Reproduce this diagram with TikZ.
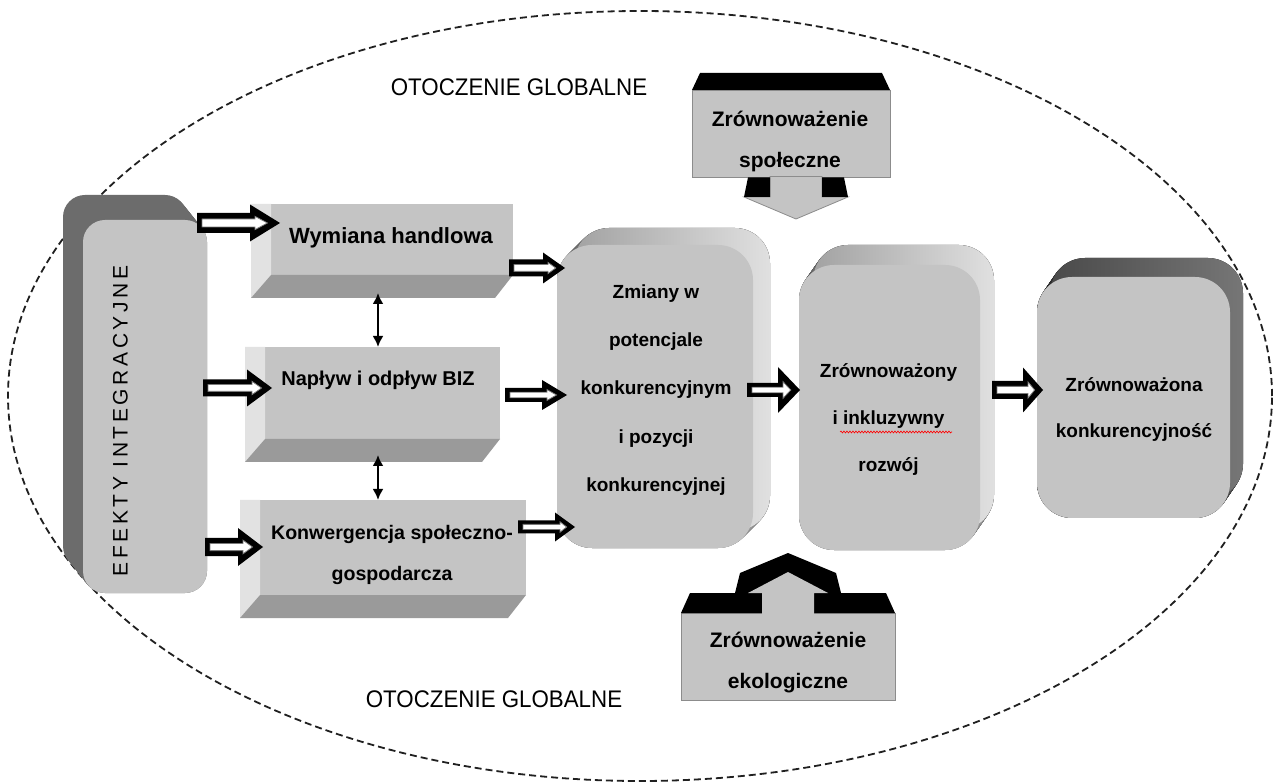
\documentclass[tikz,border=0pt]{standalone}
\usepackage{fontspec}
\setmainfont{Liberation Sans}
\newfontfamily\spacedfont[LetterSpace=17]{Liberation Sans}
\usetikzlibrary{calc,arrows.meta,decorations.pathmorphing}
\definecolor{face}{HTML}{C4C4C4}
\definecolor{bevL}{HTML}{E2E2E2}
\definecolor{bevB}{HTML}{9A9A9A}
\definecolor{extL}{HTML}{A2A2A2}
\definecolor{extR}{HTML}{E0E0E0}
\definecolor{extDL}{HTML}{4A4A4A}
\definecolor{extDR}{HTML}{767676}
\definecolor{extE}{HTML}{6C6C6C}
\definecolor{ellc}{HTML}{202020}
\definecolor{agray}{HTML}{7A7A7A}
\definecolor{cborder}{HTML}{8C8C8C}

% hollow block arrow: start, tip, shaft half, head half, head length
\newcommand\harrow[5]{%
\fill let \p1=#1, \p2=#2 in
 (\x1,\y1+#3pt) -- (\x2-#5pt,\y1+#3pt) -- (\x2-#5pt,\y1+#4pt) -- (\x2,\y1)
 -- (\x2-#5pt,\y1-#4pt) -- (\x2-#5pt,\y1-#3pt) -- (\x1,\y1-#3pt) -- cycle;
\filldraw[fill=white, draw=agray, line width=0.8pt] let \p1=#1, \p2=#2 in
 (\x1+5pt,\y1+0.4*#3pt) -- (\x2-#5pt+5pt,\y1+0.4*#3pt) -- (\x2-#5pt+5pt,\y1+0.36*#4pt) -- (\x2-0.42*#5pt,\y1)
 -- (\x2-#5pt+5pt,\y1-0.36*#4pt) -- (\x2-#5pt+5pt,\y1-0.4*#3pt) -- (\x1+5pt,\y1-0.4*#3pt) -- cycle;
}
\newcommand\bevelstrips[1]{%
 \fill[bevL] (#1.north west) -- ([xshift=-20pt]#1.north west) -- ([xshift=-20pt,yshift=-23pt]#1.south west) -- (#1.south west) -- cycle;
 \fill[bevB] (#1.south west) -- (#1.south east) -- ([xshift=-18pt,yshift=-23pt]#1.south east) -- ([xshift=-20pt,yshift=-23pt]#1.south west) -- cycle;}

\tikzset{
  bigface/.style={fill=face, draw=none, inner sep=0pt, outer sep=0pt, rounded corners=35pt},
  bevface/.style={fill=face, draw=none, inner sep=0pt, outer sep=0pt},
  calface/.style={fill=face, draw=cborder, line width=0.8pt, inner sep=0pt, outer sep=0pt},
  btxt/.style={inner sep=0pt, align=center, text=black},
  dblarrow/.style={line width=2.6pt, {Latex[length=11pt,width=11pt]}-{Latex[length=11pt,width=11pt]}},
}

\begin{document}
\begin{tikzpicture}[x=1pt,y=-1pt]
\useasboundingbox (0,0) rectangle (1278,783);
\fill[white] (0,0) rectangle (1278,783);

% global environment ellipse
\draw[ellc, line width=1.8pt, dash pattern=on 7pt off 4pt] (640,396) ellipse [x radius=632pt, y radius=385pt];

% labels of the environment
\node[btxt, anchor=base] (otTop) at (519,96) {\scalebox{0.93}[1]{\fontsize{24}{28}\selectfont OTOCZENIE GLOBALNE}};
\node[btxt, anchor=base] (otBot) at (494,707) {\scalebox{0.93}[1]{\fontsize{24}{28}\selectfont OTOCZENIE GLOBALNE}};

% EFEKTY INTEGRACYJNE
\foreach \i in {0,...,25} \fill[extE, rounded corners=22pt] (83-0.8*\i,220-\i) rectangle (207-0.8*\i,593-\i);
\node[bigface, rounded corners=22pt, minimum width=124pt, minimum height=373pt] (efekty) at (145,406.5) {};
\node[btxt, rotate=90] (efektyT) at (120.5,421) {\fontsize{21}{25}\spacedfont EFEKTY INTEGRACYJNE};

% bevel boxes
\node[bevface, minimum width=242pt, minimum height=71pt] (wym) at (392,239.5) {};
\bevelstrips{wym}
\node[btxt, anchor=base, font=\fontsize{22}{26}\selectfont\bfseries] (wymT) at (391,244) {Wymiana handlowa};

\node[bevface, minimum width=235pt, minimum height=92pt] (nap) at (382.5,393) {};
\bevelstrips{nap}
\node[btxt, anchor=base, font=\fontsize{20}{24}\selectfont\bfseries] (napT) at (378,386) {Napływ i odpływ BIZ};

\node[bevface, minimum width=266pt, minimum height=95pt] (kon) at (393,547.5) {};
\bevelstrips{kon}
\node[btxt, anchor=base, font=\fontsize{19.6}{41}\selectfont\bfseries] (konT) at (392,580) {Konwergencja społeczno-\\gospodarcza};

% big 3D boxes
\foreach \i in {0,...,17} \fill[left color=extL, right color=extR, rounded corners=35pt] (557+\i,245-\i) rectangle (753+\i,548-\i);
\node[bigface, minimum width=196pt, minimum height=303pt] (zmiany) at (655,396.5) {};
\node[btxt, anchor=base, font=\fontsize{19}{48.5}\selectfont\bfseries] (zmianyT) at (656,492) {Zmiany w\\potencjale\\konkurencyjnym\\i pozycji\\konkurencyjnej};

\foreach \i in {0,...,20} \fill[left color=extL, right color=extR, rounded corners=35pt] (799+0.7*\i,265-\i) rectangle (980+0.7*\i,550-\i);
\node[bigface, minimum width=181pt, minimum height=285pt] (rozwoj) at (889.5,407.5) {};
\node[btxt, anchor=base, font=\fontsize{19}{47.5}\selectfont\bfseries] (rozwojT) at (888.5,472) {Zrównoważony\\i inkluzywny\\rozwój};
\draw[red, line width=0.6pt, decorate, decoration={snake, amplitude=1pt, segment length=3pt}] (840,432) -- (952,432);

\foreach \i in {0,...,19} \fill[left color=extDL, right color=extDR, rounded corners=35pt] (1037+0.684*\i,277-\i) rectangle (1230+0.684*\i,518-\i);
\node[bigface, minimum width=193pt, minimum height=241pt] (konk) at (1133.5,397.5) {};
\node[btxt, anchor=base, font=\fontsize{19}{46}\selectfont\bfseries] (konkT) at (1134,438) {Zrównoważona\\konkurencyjność};

% callout: social sustainability (arrow down)
\fill[black] (692,90) -- (700,73) -- (882,73) -- (890,90) -- cycle;
\node[calface, minimum width=198pt, minimum height=87pt] (spol) at (791,133.5) {};
\filldraw[fill=face, draw=cborder, line width=0.8pt] (770,176.5) -- (822,176.5) -- (822,197) -- (848,197) -- (796,219) -- (744,197) -- (770,197) -- cycle;
\fill[black] (748,177.5) -- (770,177.5) -- (770,197) -- (744,197) -- cycle;
\fill[black] (822,177.5) -- (844,177.5) -- (848,197) -- (822,197) -- cycle;
\node[btxt, anchor=base, font=\fontsize{21}{41}\selectfont\bfseries] (spolT) at (790,168) {Zrównoważenie\\społeczne};

% callout: ecological sustainability (arrow up)
\fill[black] (735,593) -- (740,573) -- (788,553) -- (836,573) -- (841,593) -- cycle;
\node[calface, minimum width=214pt, minimum height=87pt] (eko) at (788,656.5) {};
\fill[black] (681,613) -- (690,593) -- (762,593) -- (762,613) -- cycle;
\fill[black] (814,613) -- (814,593) -- (886,593) -- (895,613) -- cycle;
\fill[face] (762,613.8) -- (762,593) -- (748,593) -- (788,572) -- (828,593) -- (814,593) -- (814,613.8) -- cycle;
\node[btxt, anchor=base, font=\fontsize{21}{41}\selectfont\bfseries] (ekoT) at (788,688) {Zrównoważenie\\ekologiczne};

% double-headed arrows between the bevel boxes
\coordinate (dblx) at (378,0);
\coordinate (w1) at ([yshift=-18pt]wym.south);
\coordinate (n1) at ([yshift=-16pt]nap.south);
\draw[dblarrow] (w1 -| dblx) -- (nap.north -| dblx);
\draw[dblarrow] (n1 -| dblx) -- (kon.north -| dblx);

% hollow block arrows
\harrow{([xshift=-10pt,yshift=-3pt]efekty.north east)}{([xshift=9pt,yshift=16.5pt]wym.west)}{10}{18.5}{30}
\harrow{([xshift=-4pt,yshift=18.5pt]efekty.east)}{([xshift=7pt,yshift=5pt]nap.west)}{8.5}{18.5}{25}
\harrow{([xshift=-2pt,yshift=-140.5pt]efekty.east)}{([xshift=3pt]kon.west)}{9}{19}{25}
\harrow{([xshift=-4pt,yshift=-28.5pt]wym.east)}{([xshift=8pt,yshift=128.5pt]zmiany.west)}{8.5}{15.5}{22}
\harrow{([xshift=5pt,yshift=-2pt]nap.east)}{([xshift=10pt,yshift=1.5pt]zmiany.west)}{7}{15}{25}
\harrow{([xshift=-8pt,yshift=20.5pt]kon.east)}{([xshift=18pt,yshift=-130.5pt]zmiany.west)}{6.5}{14.5}{20}
\harrow{([xshift=-6pt,yshift=6.5pt]zmiany.east)}{([xshift=1pt,yshift=17.5pt]rozwoj.west)}{7}{23}{22}
\harrow{([xshift=12pt,yshift=17.5pt]rozwoj.east)}{([xshift=6pt,yshift=7.5pt]konk.west)}{9}{22.5}{20}
\end{tikzpicture}
\end{document}
